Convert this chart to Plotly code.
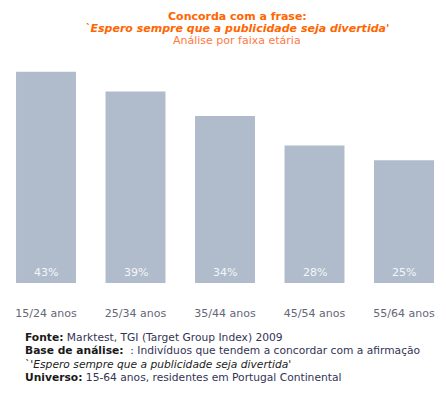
import plotly.graph_objects as go

categories = ["15/24 anos", "25/34 anos", "35/44 anos", "45/54 anos", "55/64 anos"]
values = [43, 39, 34, 28, 25]
value_labels = ["43%", "39%", "34%", "28%", "25%"]

FONT = "DejaVu Sans"
BAR = "#B0BCCC"
W, H = 438, 385          # page has an 8px body margin
OFF = 8
T, B = 52, 110
PH = H - T - B

def py(page_y):
    return (H - B - (page_y - OFF)) / PH

def px(page_x):
    return (page_x - OFF) / W

fig = go.Figure()
fig.add_trace(go.Bar(
    x=list(range(len(categories))), y=values, width=0.67,
    marker=dict(color=BAR, line=dict(width=0)),
    hoverinfo="skip",
))

annotations = []
for i, lab in enumerate(value_labels):
    annotations.append(dict(x=i, y=0, xref="x", yref="y", text=lab, showarrow=False,
                            yanchor="bottom", yshift=2,
                            font=dict(family=FONT, size=11, color="#F4F6F8")))

title_lines = [
    ("<b>Concorda com a frase:</b>", "#FF6600", 16),
    ("<b><i>`Espero sempre que a publicidade seja divertida'</i></b>", "#FF6600", 28.5),
    ("Análise por faixa etária", "#FF7A45", 41),
]
for txt, col, y in title_lines:
    annotations.append(dict(x=px(237), y=py(y), xref="paper", yref="paper", text=txt,
                            showarrow=False, xanchor="center", yanchor="middle",
                            font=dict(family=FONT, size=11, color=col)))

footer = [
    ("<b>Fonte:</b> <span style='color:#333355'>Marktest, TGI (Target Group Index) 2009</span>", 337),
    ("<b>Base de análise:</b>  <span style='color:#333355'>: Indivíduos que tendem a concordar com a afirmação</span>", 350.5),
    ("<span style='color:#222'>`'<i>Espero sempre que a publicidade seja divertida</i>'</span>", 364),
    ("<b>Universo:</b> <span style='color:#333355'>15-64 anos, residentes em Portugal Continental</span>", 377.5),
]
for txt, y in footer:
    annotations.append(dict(x=px(23), y=py(y), xref="paper", yref="paper", text=txt,
                            showarrow=False, xanchor="left", yanchor="middle",
                            font=dict(family=FONT, size=10.7, color="#1a1a1a")))

r0 = -(46 - OFF) / 89.5
fig.update_layout(
    width=W, height=H,
    margin=dict(l=0, r=0, t=T, b=B),
    paper_bgcolor="white", plot_bgcolor="white",
    showlegend=False,
    font=dict(family=FONT, size=11),
    xaxis=dict(range=[r0, r0 + W / 89.5], tickmode="array", tickvals=list(range(len(categories))),
               ticktext=categories, showgrid=False, zeroline=False, showline=False,
               ticks="", ticklabelstandoff=22, tickfont=dict(family=FONT, size=11, color="#666677")),
    yaxis=dict(range=[0, PH / 4.91], visible=False, showgrid=False, zeroline=False),
    annotations=annotations,
)

fig.write_html("out.html")
